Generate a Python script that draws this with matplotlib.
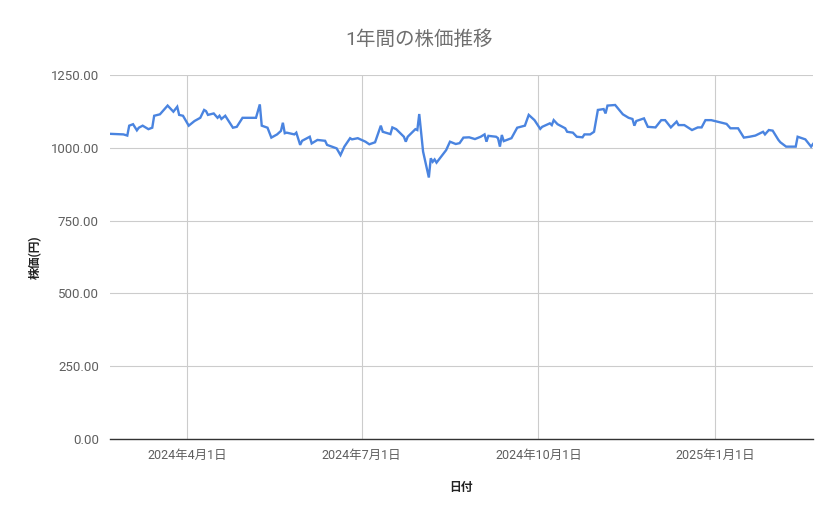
import matplotlib
matplotlib.use("Agg")
import matplotlib.pyplot as plt
import matplotlib.dates as mdates
import pandas as pd

plt.rcParams['font.family'] = ['Roboto', 'Noto Sans CJK JP', 'DejaVu Sans']

dates = [
    "2024-02-21", "2024-02-28", "2024-03-01", "2024-03-02", "2024-03-04", "2024-03-06",
    "2024-03-07", "2024-03-09", "2024-03-12", "2024-03-14", "2024-03-15", "2024-03-18",
    "2024-03-20", "2024-03-22", "2024-03-25", "2024-03-27", "2024-03-28", "2024-03-30",
    "2024-04-02", "2024-04-05", "2024-04-08", "2024-04-10", "2024-04-11", "2024-04-12",
    "2024-04-15", "2024-04-17", "2024-04-18", "2024-04-19", "2024-04-21", "2024-04-25",
    "2024-04-27", "2024-04-30", "2024-05-02", "2024-05-07", "2024-05-09", "2024-05-10",
    "2024-05-13", "2024-05-15", "2024-05-18", "2024-05-20", "2024-05-21", "2024-05-22",
    "2024-05-23", "2024-05-27", "2024-05-28", "2024-05-30", "2024-05-31", "2024-06-04",
    "2024-06-05", "2024-06-08", "2024-06-12", "2024-06-13", "2024-06-18", "2024-06-20",
    "2024-06-22", "2024-06-25", "2024-06-26", "2024-06-29", "2024-07-03", "2024-07-05",
    "2024-07-08", "2024-07-11", "2024-07-12", "2024-07-16", "2024-07-17", "2024-07-19",
    "2024-07-23", "2024-07-24", "2024-07-25", "2024-07-29", "2024-07-30", "2024-07-31",
    "2024-08-02", "2024-08-05", "2024-08-06", "2024-08-07", "2024-08-08", "2024-08-09",
    "2024-08-14", "2024-08-16", "2024-08-19", "2024-08-21", "2024-08-23", "2024-08-26",
    "2024-08-29", "2024-09-01", "2024-09-03", "2024-09-04", "2024-09-05", "2024-09-09",
    "2024-09-10", "2024-09-11", "2024-09-12", "2024-09-13", "2024-09-17", "2024-09-20",
    "2024-09-24", "2024-09-26", "2024-09-29", "2024-10-02", "2024-10-03", "2024-10-07",
    "2024-10-08", "2024-10-09", "2024-10-11", "2024-10-15", "2024-10-16", "2024-10-19",
    "2024-10-21", "2024-10-24", "2024-10-25", "2024-10-28", "2024-10-30", "2024-11-01",
    "2024-11-04", "2024-11-05", "2024-11-06", "2024-11-10", "2024-11-14", "2024-11-17",
    "2024-11-19", "2024-11-20", "2024-11-21", "2024-11-25", "2024-11-27", "2024-12-01",
    "2024-12-04", "2024-12-06", "2024-12-09", "2024-12-12", "2024-12-13", "2024-12-16",
    "2024-12-20", "2024-12-23", "2024-12-25", "2024-12-27", "2024-12-30", "2025-01-07",
    "2025-01-09", "2025-01-13", "2025-01-16", "2025-01-19", "2025-01-22", "2025-01-26",
    "2025-01-27", "2025-01-29", "2025-01-31", "2025-02-03", "2025-02-04", "2025-02-07",
    "2025-02-12", "2025-02-13", "2025-02-17", "2025-02-20", "2025-02-21",
]

prices = [
    1048, 1046, 1042, 1076, 1081, 1060,
    1069, 1076, 1064, 1069, 1110, 1115,
    1130, 1145, 1124, 1141, 1113, 1110,
    1076, 1092, 1103, 1130, 1126, 1113,
    1118, 1103, 1110, 1099, 1110, 1069,
    1072, 1103, 1103, 1103, 1149, 1076,
    1069, 1035, 1046, 1058, 1086, 1050,
    1052, 1046, 1052, 1010, 1024, 1038,
    1015, 1027, 1024, 1010, 998, 975,
    1004, 1033, 1029, 1033, 1021, 1012,
    1019, 1076, 1055, 1047, 1070, 1064,
    1038, 1021, 1038, 1064, 1061, 1116,
    987, 898, 964, 952, 960, 949,
    992, 1021, 1013, 1016, 1035, 1036,
    1030, 1038, 1046, 1021, 1041, 1038,
    1033, 1004, 1044, 1023, 1033, 1069,
    1076, 1113, 1095, 1065, 1072, 1084,
    1078, 1095, 1081, 1067, 1055, 1052,
    1038, 1036, 1046, 1046, 1055, 1130,
    1133, 1118, 1145, 1147, 1115, 1103,
    1099, 1076, 1092, 1101, 1072, 1070,
    1095, 1095, 1070, 1090, 1078, 1078,
    1061, 1070, 1070, 1095, 1095, 1082,
    1067, 1067, 1035, 1038, 1042, 1055,
    1046, 1061, 1059, 1027, 1019, 1004,
    1004, 1038, 1029, 1004, 1013,
]

y_ticks = [0, 250, 500, 750, 1000, 1250]
x_ticks = ["2024-04-01", "2024-07-01", "2024-10-01", "2025-01-01"]
x_tick_labels = ["2024年4月1日", "2024年7月1日", "2024年10月1日", "2025年1月1日"]

title = "1年間の株価推移"
x_title = "日付"
y_title = "株価(円)"

d = pd.to_datetime(dates)

fig = plt.figure(figsize=(8.39, 5.19), dpi=100)
ax = fig.add_axes([110 / 839, 1 - 439 / 519, (813 - 110) / 839, (439 - 75) / 519])

ax.plot(d, prices, color="#4a84e0", linewidth=1.7, solid_joinstyle="miter", zorder=3)

ax.set_xlim(d[0], d[-1])
ax.set_ylim(0, 1250)
ax.set_yticks(y_ticks)
ax.set_yticklabels([f"{v:.2f}" for v in y_ticks])
ax.set_xticks(pd.to_datetime(x_ticks))
ax.set_xticklabels(x_tick_labels)

ax.grid(True, color="#cccccc", linewidth=0.8)
ax.set_axisbelow(True)
for s in ["top", "right", "left"]:
    ax.spines[s].set_visible(False)
ax.spines["bottom"].set_color("#333333")
ax.spines["bottom"].set_linewidth(1.0)
ax.spines["bottom"].set_zorder(4)

ax.tick_params(axis="y", length=0, labelsize=9.5, labelcolor="#5f5f5f", pad=8)
ax.tick_params(axis="x", length=0, labelsize=9, labelcolor="#5f5f5f", pad=7)

fig.text(0.5, 1 - 40 / 519, title, ha="center", va="center", fontsize=14, color="#6f6f6f")
fig.text(461 / 839, 1 - 487 / 519, x_title, ha="center", va="center", fontsize=8.5,
         color="#222222", fontweight="bold")
fig.text(35 / 839, 1 - 257 / 519, y_title, ha="center", va="center", fontsize=8.5,
         color="#222222", fontweight="bold", rotation=90)

fig.savefig("out.png", dpi=100)
